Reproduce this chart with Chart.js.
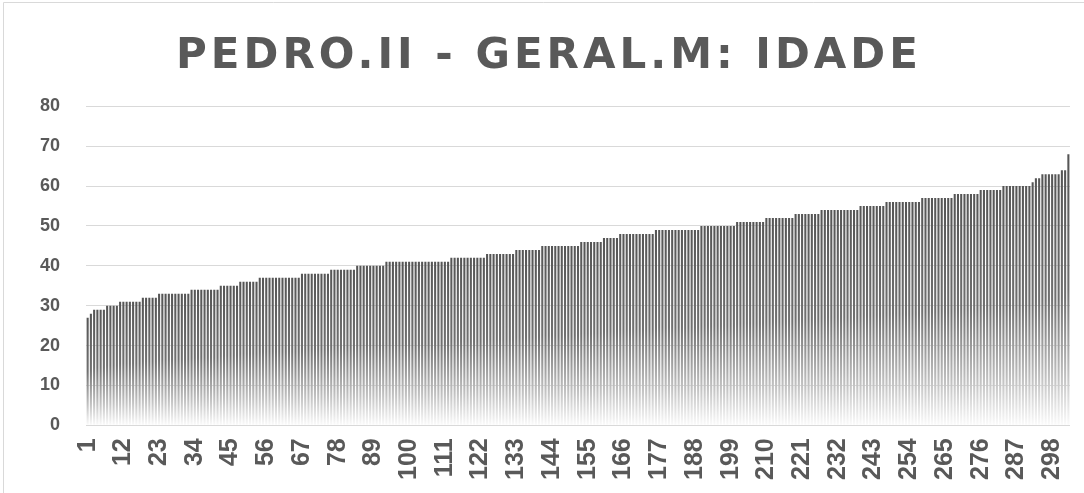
<!DOCTYPE html>
<html>
<head>
<meta charset="utf-8">
<script src="https://cdn.jsdelivr.net/npm/chart.js@4"></script>
<style>
  html, body { margin: 0; padding: 0; background: #ffffff; }
  #wrap { width: 1084px; height: 493px; position: relative; }
</style>
</head>
<body>
<div id="wrap"><canvas id="c" width="1084" height="493"></canvas></div>
<script>
const chartTitle = "PEDRO.II - GERAL.M: IDADE";

// Ages, sorted ascending (one value per bar)
const idade = [
  27,
  28,
  29, 29, 29, 29,
  30, 30, 30, 30,
  31, 31, 31, 31, 31, 31, 31,
  32, 32, 32, 32, 32,
  33, 33, 33, 33, 33, 33, 33, 33, 33, 33,
  34, 34, 34, 34, 34, 34, 34, 34, 34,
  35, 35, 35, 35, 35, 35,
  36, 36, 36, 36, 36, 36,
  37, 37, 37, 37, 37, 37, 37, 37, 37, 37, 37, 37, 37,
  38, 38, 38, 38, 38, 38, 38, 38, 38,
  39, 39, 39, 39, 39, 39, 39, 39,
  40, 40, 40, 40, 40, 40, 40, 40, 40,
  41, 41, 41, 41, 41, 41, 41, 41, 41, 41, 41, 41, 41, 41, 41, 41, 41, 41, 41, 41,
  42, 42, 42, 42, 42, 42, 42, 42, 42, 42, 42,
  43, 43, 43, 43, 43, 43, 43, 43, 43,
  44, 44, 44, 44, 44, 44, 44, 44,
  45, 45, 45, 45, 45, 45, 45, 45, 45, 45, 45, 45,
  46, 46, 46, 46, 46, 46, 46,
  47, 47, 47, 47, 47,
  48, 48, 48, 48, 48, 48, 48, 48, 48, 48, 48,
  49, 49, 49, 49, 49, 49, 49, 49, 49, 49, 49, 49, 49, 49,
  50, 50, 50, 50, 50, 50, 50, 50, 50, 50, 50,
  51, 51, 51, 51, 51, 51, 51, 51, 51,
  52, 52, 52, 52, 52, 52, 52, 52, 52,
  53, 53, 53, 53, 53, 53, 53, 53,
  54, 54, 54, 54, 54, 54, 54, 54, 54, 54, 54, 54,
  55, 55, 55, 55, 55, 55, 55, 55,
  56, 56, 56, 56, 56, 56, 56, 56, 56, 56, 56,
  57, 57, 57, 57, 57, 57, 57, 57, 57, 57,
  58, 58, 58, 58, 58, 58, 58, 58,
  59, 59, 59, 59, 59, 59, 59,
  60, 60, 60, 60, 60, 60, 60, 60, 60,
  61,
  62, 62,
  63, 63, 63, 63, 63, 63,
  64, 64,
  68
];

// Category labels: bar index 1..N
const categories = idade.map((v, i) => String(i + 1));
// Every 11th category carries a visible tick label
const tickEvery = 11;
const yTicks = { min: 0, max: 80, step: 10 };

const textColor = '#595959';

const outerBorder = {
  id: 'outerBorder',
  afterDraw(chart) {
    const ctx = chart.ctx;
    ctx.save();
    ctx.strokeStyle = '#d9d9d9';
    ctx.lineWidth = 1;
    ctx.beginPath();
    ctx.moveTo(3.5, chart.height);
    ctx.lineTo(3.5, 2.5);
    ctx.lineTo(chart.width, 2.5);
    ctx.stroke();
    ctx.restore();
  }
};

const spacedTitle = {
  id: 'spacedTitle',
  beforeDraw(chart) {
    const tb = chart.titleBlock;
    if (tb && !tb.__spaced) {
      const orig = tb.draw.bind(tb);
      tb.draw = function (area) {
        const ctx = chart.ctx;
        ctx.save();
        if ('letterSpacing' in ctx) ctx.letterSpacing = '4px';
        orig(area);
        ctx.restore();
      };
      tb.__spaced = true;
    }
  }
};

function barFill(c) {
  const chart = c.chart;
  const ys = chart.scales && chart.scales.y;
  const area = chart.chartArea;
  if (!ys || !area || c.raw == null) return '#666666';
  const top = ys.getPixelForValue(c.raw);
  const base = ys.getPixelForValue(0);
  if (!isFinite(top) || !isFinite(base) || base - top < 1) return '#666666';
  const g = chart.ctx.createLinearGradient(0, top, 0, base);
  g.addColorStop(0, '#555555');
  g.addColorStop(0.5, '#707070');
  g.addColorStop(0.82, '#c4c4c4');
  g.addColorStop(1, '#fbfbfb');
  return g;
}

new Chart(document.getElementById('c'), {
  type: 'bar',
  data: {
    labels: categories,
    datasets: [{
      label: 'IDADE',
      data: idade,
      backgroundColor: barFill,
      borderWidth: 0,
      categoryPercentage: 1.0,
      barPercentage: 0.64
    }]
  },
  options: {
    responsive: false,
    animation: false,
    devicePixelRatio: 1,
    layout: { padding: { left: 14, right: 0, top: 0, bottom: 0 } },
    plugins: {
      legend: { display: false },
      tooltip: { enabled: false },
      title: {
        display: true,
        text: chartTitle,
        color: textColor,
        font: { family: 'DejaVu Sans', weight: 'bold', size: 42 },
        padding: { top: 32, bottom: 24 }
      }
    },
    scales: {
      x: {
        afterFit(scale) { scale.paddingRight = 14; },
        grid: { display: false, drawTicks: false },
        border: { display: false },
        ticks: {
          autoSkip: false,
          minRotation: 90,
          maxRotation: 90,
          padding: 13,
          color: textColor,
          font: { family: 'Liberation Sans', weight: 'bold', size: 25 },
          callback: function (val, idx) {
            return idx % tickEvery === 0 ? this.getLabelForValue(val) : '';
          }
        }
      },
      y: {
        min: yTicks.min,
        max: yTicks.max,
        grid: { color: '#d9d9d9', lineWidth: 1, drawTicks: false },
        border: { display: false },
        ticks: {
          stepSize: yTicks.step,
          padding: 26,
          color: textColor,
          font: { family: 'Liberation Sans', weight: 'bold', size: 18 }
        }
      }
    }
  },
  plugins: [outerBorder, spacedTitle]
});
</script>
</body>
</html>
